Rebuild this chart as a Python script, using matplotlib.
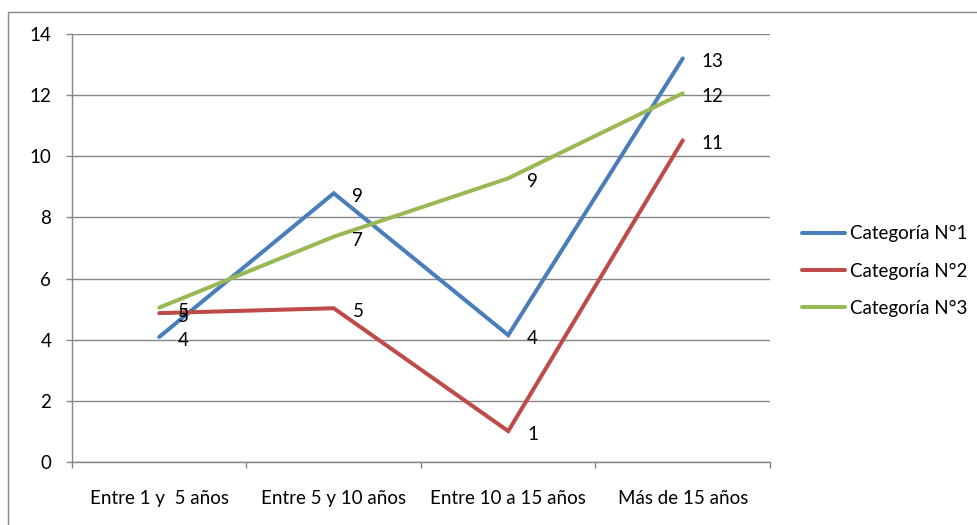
import matplotlib
matplotlib.use("Agg")
import matplotlib.pyplot as plt
from matplotlib.patches import Rectangle

plt.rcParams['font.family'] = ['Lato', 'DejaVu Sans']

categories = ["Entre 1 y  5 años", "Entre 5 y 10 años", "Entre 10 a 15 años", "Más de 15 años"]
series_names = ["Categoría N°1", "Categoría N°2", "Categoría N°3"]
cat1 = [4.09, 8.79, 4.15, 13.2]
cat2 = [4.87, 5.03, 1.01, 10.52]
cat3 = [5.05, 7.37, 9.28, 12.06]
colors = ["#4A7EBB", "#BE4B48", "#98B954"]
y_ticks = [0, 2, 4, 6, 8, 10, 12, 14]

grid_color = "#868686"
fs = 13.5

fig = plt.figure(figsize=(9.78, 5.25), dpi=100)
fig.patch.set_facecolor("white")

# outer chart-area border
fig.patches.append(Rectangle((8 / 978, -0.05), 1.1, (525 - 12) / 525 + 0.05,
                             transform=fig.transFigure, fill=False,
                             edgecolor=grid_color, linewidth=1.0))

ax = fig.add_axes([72 / 978, 63 / 525, (770 - 72) / 978, (462 - 34) / 525])

x = [i + 0.5 for i in range(len(categories))]
for name, vals, col in zip(series_names, [cat1, cat2, cat3], colors):
    ax.plot(x, vals, color=col, linewidth=2.9, label=name, solid_capstyle='round',
            solid_joinstyle='miter', zorder=3)
    for xi, v in zip(x, vals):
        ax.annotate(f"{v:.0f}", (xi, v), xytext=(13.5, -2.5), textcoords="offset points",
                    ha="left", va="center", fontsize=fs, color="black", zorder=4)

ax.set_xlim(0, len(categories))
ax.set_ylim(0, 14)
ax.set_yticks(y_ticks)
ax.set_yticklabels([str(t) for t in y_ticks])
ax.yaxis.grid(True, color=grid_color, linewidth=1.0)
ax.set_axisbelow(True)

ax.set_xticks(range(len(categories) + 1))
ax.set_xticklabels([])
ax.set_xticks(x, minor=True)
ax.set_xticklabels(categories, minor=True)
ax.tick_params(axis="x", which="major", direction="out", length=4, width=1.0, color=grid_color)
ax.tick_params(axis="x", which="minor", length=0, pad=20, labelsize=fs)
ax.tick_params(axis="y", direction="out", length=4, width=1.0, color=grid_color,
               pad=11, labelsize=fs)

for side in ["top", "right"]:
    ax.spines[side].set_visible(False)
for side in ["left", "bottom"]:
    ax.spines[side].set_color(grid_color)
    ax.spines[side].set_linewidth(1.0)

leg = fig.legend(loc="center left", bbox_to_anchor=(802 / 978, (525 - 271) / 525),
                 frameon=False, fontsize=fs, handlelength=2.3, handletextpad=0.25,
                 labelspacing=1.08, borderpad=0, borderaxespad=0)
for line in leg.get_lines():
    line.set_linewidth(2.9)

fig.savefig("out.png", dpi=100, facecolor="white")
